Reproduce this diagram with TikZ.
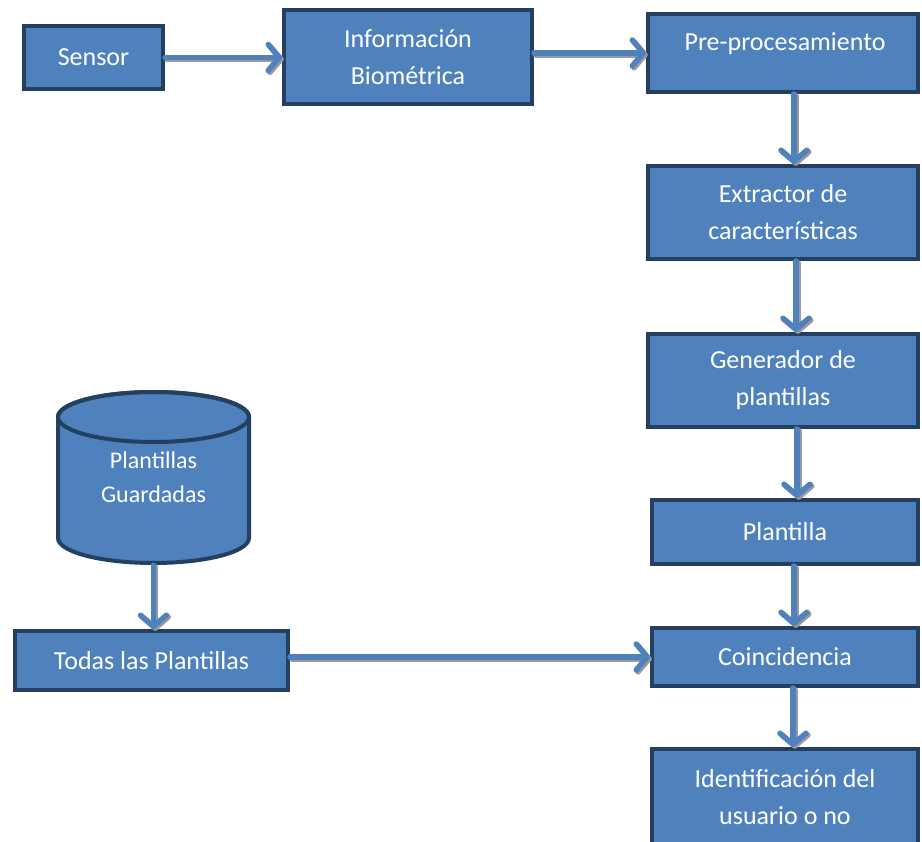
\documentclass[tikz,border=0pt]{standalone}
\usepackage{fontspec}
\setmainfont{Carlito}
\usetikzlibrary{arrows.meta}
\definecolor{boxfill}{HTML}{4F81BD}
\definecolor{boxline}{HTML}{243F60}
\definecolor{shadowgray}{HTML}{9A9A9A}
\tikzset{
  blk/.style={rectangle, draw=boxline, fill=boxfill, line width=4pt, text=white,
    align=center, font=\fontsize{26}{37}\selectfont, inner sep=0pt},
  txt/.style={text=white, align=center, inner sep=0pt},
  flowbase/.style={line width=5.5pt, line cap=round,
    -{Straight Barb[length=11pt,width=26pt,line cap=round,line join=round]}},
  flow/.style={flowbase, draw=boxfill},
  flowshadow/.style={flowbase, draw=shadowgray, transform canvas={shift={(1.8pt,-1.8pt)}}}
}
\newcommand{\flowline}[2]{%
  \draw[flowshadow] #1 -- #2;
  \draw[flow] #1 -- #2;}
\begin{document}
\begin{tikzpicture}[x=1pt,y=-1pt]
\useasboundingbox (0,0) rectangle (922,842);
% boxes
\node[blk, minimum width=139, minimum height=63] (sensor) at (93.5,57.5) {Sensor};
\node[blk, minimum width=248, minimum height=94] (info) at (408,57) {Información\\Biométrica};
\node[blk, minimum width=270, minimum height=78] (pre) at (783,53) {};
\node[txt, font=\fontsize{26}{37}\selectfont] (pretxt) at (785,44) {Pre-procesamiento};
\node[blk, minimum width=270, minimum height=93] (ext) at (783,212.5) {Extractor de\\características};
\node[blk, minimum width=270, minimum height=93] (gen) at (783,380.5) {Generador de\\plantillas};
\node[blk, minimum width=266, minimum height=64] (plant) at (785,532) {Plantilla};
\node[blk, minimum width=266, minimum height=58] (coin) at (785,657) {Coincidencia};
\node[blk, minimum width=266, minimum height=97] (ident) at (785,797.5) {Identificación del\\usuario o no};
\node[blk, minimum width=273, minimum height=59] (todas) at (151.5,660.5) {Todas las Plantillas};
% cylinder
\draw[draw=boxline, fill=boxfill, line width=4pt]
  (58,417) -- (58,538) arc (180:360:95.5pt and 25pt) -- (249,417) arc (0:180:95.5pt and 25pt) -- cycle;
\draw[draw=boxline, line width=4pt] (153.5,417) ellipse (95.5pt and 25pt);
\node[txt, minimum width=195, minimum height=175, font=\fontsize{24}{34}\selectfont] (cyl) at (153.5,477.5) {Plantillas\\Guardadas};
% connectors
\flowline{(sensor.east)}{(info.west |- sensor.east)}
\flowline{(info.east |- pre.west)}{(pre.west)}
\flowline{([xshift=11pt]pre.south)}{([xshift=11pt]ext.north)}
\flowline{([xshift=13pt]ext.south)}{([xshift=13pt]gen.north)}
\flowline{([xshift=14pt]gen.south)}{([xshift=12pt]plant.north)}
\flowline{([xshift=9pt]plant.south)}{([xshift=9pt]coin.north)}
\flowline{([xshift=8pt]coin.south)}{([xshift=8pt]ident.north)}
\flowline{(cyl.south)}{(todas.north -| cyl.south)}
\flowline{(todas.east |- coin.west)}{(coin.west)}
\end{tikzpicture}
\end{document}
